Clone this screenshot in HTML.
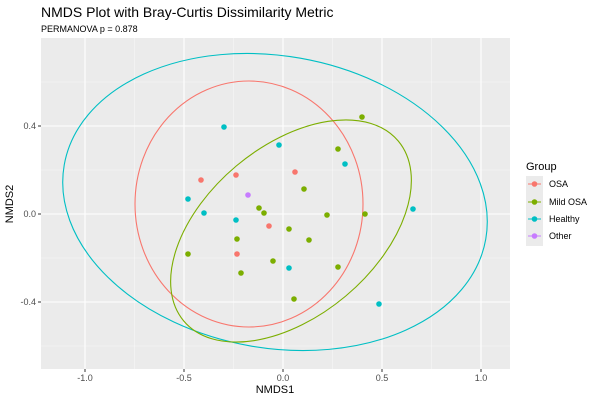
<!DOCTYPE html>
<html><head><meta charset="utf-8"><style>body{margin:0;background:#fff}svg{display:block}text{font-family:"Liberation Sans","DejaVu Sans",sans-serif}</style></head><body>
<svg width="600" height="400" xmlns="http://www.w3.org/2000/svg">
<rect width="600" height="400" fill="#fff"/>
<text x="41" y="17" font-size="14" fill="#000">NMDS Plot with Bray-Curtis Dissimilarity Metric</text>
<text x="41" y="32" font-size="9" fill="#000">PERMANOVA p = 0.878</text>
<rect x="41" y="38" width="469" height="331" fill="#ebebeb"/>
<g stroke="#f7f7f7" stroke-width="0.6">
<line x1="134.5" y1="38" x2="134.5" y2="369"/><line x1="233.5" y1="38" x2="233.5" y2="369"/><line x1="332.5" y1="38" x2="332.5" y2="369"/><line x1="431.5" y1="38" x2="431.5" y2="369"/>
<line x1="41" y1="82" x2="510" y2="82"/><line x1="41" y1="170" x2="510" y2="170"/><line x1="41" y1="258" x2="510" y2="258"/><line x1="41" y1="346" x2="510" y2="346"/>
</g>
<g stroke="#fff" stroke-width="1.1">
<line x1="85" y1="38" x2="85" y2="369"/><line x1="184" y1="38" x2="184" y2="369"/><line x1="283" y1="38" x2="283" y2="369"/><line x1="382" y1="38" x2="382" y2="369"/><line x1="481" y1="38" x2="481" y2="369"/>
<line x1="41" y1="126" x2="510" y2="126"/><line x1="41" y1="214" x2="510" y2="214"/><line x1="41" y1="302" x2="510" y2="302"/>
</g>
<g fill="none" stroke-width="1.1">
<ellipse cx="275" cy="202" rx="214" ry="146" transform="rotate(10 275 202)" stroke="#00BFC4"/>
<ellipse cx="249" cy="204" rx="114" ry="123" stroke="#F8766D"/>
<ellipse cx="291" cy="231" rx="140" ry="85" transform="rotate(-40 291 231)" stroke="#7CAE00"/>
</g>
<g fill="#F8766D"><circle cx="201" cy="180" r="2.8"/><circle cx="236" cy="175" r="2.8"/><circle cx="295" cy="172" r="2.8"/><circle cx="269" cy="226" r="2.8"/><circle cx="237" cy="254" r="2.8"/></g>
<g fill="#7CAE00"><circle cx="362" cy="117" r="2.8"/><circle cx="338" cy="149" r="2.8"/><circle cx="304" cy="189" r="2.8"/><circle cx="259" cy="208" r="2.8"/><circle cx="264" cy="213" r="2.8"/><circle cx="327" cy="215" r="2.8"/><circle cx="365" cy="214" r="2.8"/><circle cx="289" cy="229" r="2.8"/><circle cx="309" cy="240" r="2.8"/><circle cx="237" cy="239" r="2.8"/><circle cx="188" cy="254" r="2.8"/><circle cx="273" cy="261" r="2.8"/><circle cx="338" cy="267" r="2.8"/><circle cx="241" cy="273" r="2.8"/><circle cx="294" cy="299" r="2.8"/></g>
<g fill="#00BFC4"><circle cx="224" cy="127" r="2.8"/><circle cx="279" cy="145" r="2.8"/><circle cx="345" cy="164" r="2.8"/><circle cx="188" cy="199" r="2.8"/><circle cx="204" cy="213" r="2.8"/><circle cx="236" cy="220" r="2.8"/><circle cx="413" cy="209" r="2.8"/><circle cx="289" cy="268" r="2.8"/><circle cx="379" cy="304" r="2.8"/></g>
<circle cx="248" cy="195" r="2.8" fill="#C77CFF"/>
<g stroke="#333" stroke-width="1"><line x1="85" y1="369" x2="85" y2="372"/><line x1="184" y1="369" x2="184" y2="372"/><line x1="283" y1="369" x2="283" y2="372"/><line x1="382" y1="369" x2="382" y2="372"/><line x1="481" y1="369" x2="481" y2="372"/>
<line x1="38" y1="126" x2="41" y2="126"/><line x1="38" y1="214" x2="41" y2="214"/><line x1="38" y1="302" x2="41" y2="302"/></g>
<g font-size="9" fill="#4d4d4d" text-anchor="middle"><text x="85" y="381">-1.0</text><text x="184" y="381">-0.5</text><text x="283" y="381">0.0</text><text x="382" y="381">0.5</text><text x="481" y="381">1.0</text></g>
<g font-size="9" fill="#4d4d4d" text-anchor="end"><text x="36" y="129">0.4</text><text x="36" y="217">0.0</text><text x="36" y="305">-0.4</text></g>
<text x="275" y="393" font-size="11" text-anchor="middle">NMDS1</text>
<text transform="translate(13 204) rotate(-90)" font-size="11" text-anchor="middle">NMDS2</text>
<text x="526" y="170" font-size="11">Group</text>
<rect x="526" y="176" width="17" height="70" fill="#ebebeb"/>
<g stroke-width="1"><line x1="528" y1="184" x2="541" y2="184" stroke="#F8766D"/><line x1="528" y1="202" x2="541" y2="202" stroke="#7CAE00"/><line x1="528" y1="219" x2="541" y2="219" stroke="#00BFC4"/><line x1="528" y1="236" x2="541" y2="236" stroke="#C77CFF"/></g>
<circle cx="534.5" cy="184" r="2.8" fill="#F8766D"/><circle cx="534.5" cy="202" r="2.8" fill="#7CAE00"/><circle cx="534.5" cy="219" r="2.8" fill="#00BFC4"/><circle cx="534.5" cy="236" r="2.8" fill="#C77CFF"/>
<g font-size="9" fill="#000"><text x="549" y="187">OSA</text><text x="549" y="205">Mild OSA</text><text x="549" y="222">Healthy</text><text x="549" y="239">Other</text></g>
</svg>
</body></html>
